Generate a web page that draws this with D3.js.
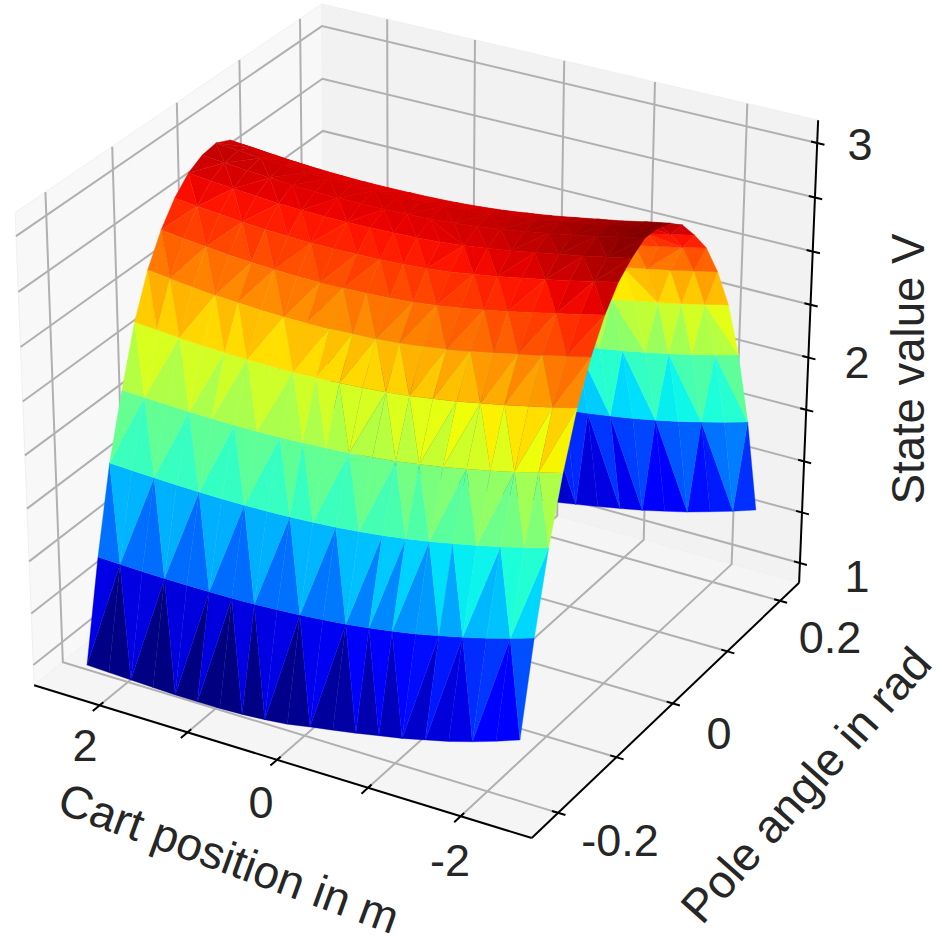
<!DOCTYPE html>
<html><head><meta charset="utf-8">
<script src="https://cdn.jsdelivr.net/npm/d3@7/dist/d3.min.js"></script>
<style>html,body{margin:0;padding:0;background:#fff}svg{display:block}</style></head>
<body><svg id="c" width="945" height="945"></svg>
<script>
// ---- data ----
const xValues = [2.4,2.147,1.895,1.642,1.389,1.137,0.884,0.632,0.379,0.126,-0.126,-0.379,-0.632,-0.884,-1.137,-1.389,-1.642,-1.895,-2.147,-2.4];
const yValues = [-0.2094,-0.1874,-0.1653,-0.1433,-0.1212,-0.0992,-0.0771,-0.0551,-0.0331,-0.011,0.011,0.0331,0.0551,0.0771,0.0992,0.1212,0.1433,0.1653,0.1874,0.2094];
const stateValue = [
[.957,.953,.949,.945,.942,.941,.942,.946,.954,.965,.985,1.003,1.022,1.043,1.064,1.090,1.116,1.148,1.184,1.224],
[1.426,1.423,1.419,1.417,1.416,1.416,1.417,1.420,1.425,1.432,1.441,1.452,1.466,1.483,1.502,1.525,1.550,1.578,1.609,1.643],
[1.822,1.817,1.812,1.808,1.805,1.803,1.803,1.805,1.809,1.815,1.822,1.832,1.845,1.860,1.878,1.899,1.921,1.946,1.973,2.002],
[2.115,2.110,2.105,2.101,2.098,2.096,2.096,2.098,2.102,2.108,2.114,2.124,2.136,2.151,2.169,2.189,2.211,2.235,2.262,2.290],
[2.383,2.375,2.366,2.359,2.354,2.350,2.349,2.349,2.352,2.357,2.363,2.371,2.383,2.399,2.416,2.437,2.458,2.481,2.505,2.531],
[2.576,2.564,2.553,2.542,2.535,2.529,2.525,2.525,2.527,2.531,2.536,2.545,2.558,2.574,2.593,2.614,2.637,2.660,2.684,2.709],
[2.714,2.702,2.691,2.680,2.673,2.667,2.663,2.663,2.665,2.669,2.674,2.683,2.696,2.712,2.731,2.752,2.775,2.798,2.822,2.847],
[2.815,2.804,2.794,2.784,2.777,2.772,2.769,2.769,2.771,2.775,2.780,2.788,2.800,2.816,2.834,2.854,2.875,2.897,2.921,2.945],
[2.884,2.874,2.865,2.857,2.850,2.846,2.843,2.843,2.845,2.849,2.853,2.861,2.872,2.886,2.902,2.921,2.940,2.960,2.982,3.004],
[2.922,2.912,2.903,2.895,2.888,2.884,2.881,2.881,2.883,2.887,2.892,2.900,2.911,2.925,2.942,2.961,2.980,3.001,3.024,3.046],
[2.933,2.924,2.915,2.908,2.902,2.898,2.896,2.895,2.897,2.901,2.905,2.912,2.922,2.935,2.950,2.967,2.985,3.004,3.024,3.044],
[2.902,2.893,2.884,2.876,2.870,2.866,2.864,2.864,2.866,2.869,2.874,2.882,2.892,2.906,2.921,2.939,2.958,2.977,2.999,3.020],
[2.835,2.825,2.816,2.807,2.801,2.796,2.793,2.793,2.796,2.800,2.805,2.813,2.825,2.839,2.857,2.877,2.897,2.918,2.942,2.965],
[2.744,2.734,2.725,2.716,2.710,2.705,2.702,2.702,2.705,2.709,2.714,2.722,2.734,2.748,2.766,2.786,2.806,2.827,2.851,2.874],
[2.639,2.629,2.620,2.611,2.605,2.600,2.597,2.597,2.600,2.604,2.609,2.617,2.629,2.643,2.661,2.681,2.701,2.722,2.746,2.769],
[2.478,2.470,2.462,2.455,2.450,2.447,2.445,2.446,2.448,2.452,2.458,2.466,2.477,2.491,2.507,2.526,2.546,2.567,2.590,2.613],
[2.263,2.257,2.250,2.245,2.241,2.239,2.238,2.239,2.242,2.247,2.253,2.261,2.273,2.287,2.303,2.322,2.342,2.364,2.388,2.413],
[1.956,1.951,1.946,1.942,1.939,1.937,1.937,1.939,1.943,1.949,1.955,1.965,1.977,1.992,2.010,2.030,2.052,2.076,2.103,2.131],
[1.563,1.560,1.558,1.556,1.555,1.555,1.556,1.559,1.564,1.570,1.578,1.588,1.601,1.617,1.634,1.655,1.678,1.704,1.732,1.763],
[1.024,1.020,1.016,1.012,1.009,1.008,1.009,1.013,1.021,1.032,1.052,1.070,1.089,1.110,1.131,1.157,1.183,1.215,1.248,1.284]
];
// triangle walk between neighbouring rows: b = step along row i, t = step along row i+1
const stripMoves = [
"tbbttbbttbtbbtbttbbttbbtbtbttbtbbttbbt",
"bttbbttbbttbbttbbttbbttbtbtbbtbttbbttb",
"tbbttbbttbbttbbtbttbbttbbtbttbbttbbtbt",
"bttbbttbtbbttbbtbtbttbbtbttbtbbtbttbtb",
"btbttbbtbttbbttbtbtbbtbttbtbbttbtbbttb",
"bttbbttbtbbttbtbbtbttbtbbttbbtbttbbttb",
"tbbttbbtbttbbttbtbbtbtbttbbtbttbbttbbt",
"bttbbttbbtbttbbtbtbtbttbbtbttbbttbbttb",
"tbbttbbtbttbbttbbtbtbbttbtbttbbttbbttb",
"bttbbttbtbbttbbtbttbbttbbttbtbbttbbttb",
"tbbttbtbbttbbttbbttbbtbtbttbbttbbttbbt",
"bttbbttbbttbtbbttbbttbbtbttbbttbtbbttb",
"tbbttbbttbbttbtbttbbttbbttbbtbtbbttbbt",
"bttbbttbbttbbtbttbbttbbttbtbbttbbttbbt",
"tbbttbbttbbttbbttbbtbtbbttbbttbtbbttbb",
"bttbbttbbttbbttbbttbbttbbttbbttbbtbtbt",
"tbbttbbttbbttbbttbbttbbttbbttbbtbtbttb",
"tbbttbbttbbttbbttbbttbbttbbttbbttbbttb",
"tbbttbbttbbttbbttbbttbbttbtbbttbbttbbt"
];
const xTicks = [2,1,0,-1,-2];
const xTickLabels = {"2":"2","0":"0","-2":"-2"};
const yTicks = [-0.2,-0.1,0,0.1,0.2];
const zTicks = [1,1.25,1.5,1.75,2,2.25,2.5,2.75,3];
const titles = {x:"Cart position in m", y:"Pole angle in rad", z:"State value V"};

// ---- scales: data to unit box ----
const sx = d3.scaleLinear().domain([2.756,-2.756]).range([0,1]);
const sy = d3.scaleLinear().domain([-0.2443,0.2367]).range([0,1]);
const sz = d3.scaleLinear().domain([0.9016,3.1038]).range([0,1]);

// ---- camera fitted to the box corners on the page ----
const boxAnchors = [
 [0,0,0, 34,685],[1,0,0, 532,838],[1,1,0, 799,583],
 [0,0,1, 15,213],[0,1,1, 322,4],[1,1,1, 818,120]];
function solve(A,b){const n=b.length;const M=A.map((r,i)=>[...r,b[i]]);
 for(let i=0;i<n;i++){let p=i;for(let k=i+1;k<n;k++)if(Math.abs(M[k][i])>Math.abs(M[p][i]))p=k;[M[i],M[p]]=[M[p],M[i]];
  for(let k=i+1;k<n;k++){const f=M[k][i]/M[i][i];for(let c=i;c<=n;c++)M[k][c]-=f*M[i][c];}}
 const x=Array(n).fill(0);for(let i=n-1;i>=0;i--){let s=M[i][n];for(let c=i+1;c<n;c++)s-=M[i][c]*x[c];x[i]=s/M[i][i];}return x;}
const rows=[],rhs=[];
boxAnchors.forEach(([u,v,w,px,py])=>{
 rows.push([u,v,w,1,0,0,0,0,-px*u,-px*v,-px*w]);rhs.push(px);
 rows.push([0,0,0,0,u,v,w,1,-py*u,-py*v,-py*w]);rhs.push(py);});
const AtA=Array.from({length:11},(_,i)=>Array.from({length:11},(_,j)=>d3.sum(rows,r=>r[i]*r[j])));
const Atb=Array.from({length:11},(_,i)=>d3.sum(rows,(r,k)=>r[i]*rhs[k]));
const P=solve(AtA,Atb);
function cam(u,v,w){const d=P[8]*u+P[9]*v+P[10]*w+1;return [(P[0]*u+P[1]*v+P[2]*w+P[3])/d,(P[4]*u+P[5]*v+P[6]*w+P[7])/d,d];}
const line=d3.line();
const seg=(a,b)=>line([cam(...a).slice(0,2),cam(...b).slice(0,2)]);
const poly=pts=>line(pts.map(p=>cam(...p).slice(0,2)))+"Z";

const svg=d3.select("#c");
// panes
[{c:"#f8f8f8",p:[[0,0,0],[0,1,0],[0,1,1],[0,0,1]]},
 {c:"#f2f2f2",p:[[0,1,0],[1,1,0],[1,1,1],[0,1,1]]},
 {c:"#f5f5f5",p:[[0,0,0],[1,0,0],[1,1,0],[0,1,0]]}].forEach(d=>
  svg.append("path").attr("d",poly(d.p)).attr("fill",d.c).attr("stroke","#f0f0f0").attr("stroke-width",1));
// grid
const grid=svg.append("g").attr("stroke","#b0b0b0").attr("stroke-width",2).attr("fill","none");
xTicks.forEach(t=>{const u=sx(t);
 grid.append("path").attr("d",line([[u,0,0],[u,1,0],[u,1,1]].map(p=>cam(...p).slice(0,2))));});
yTicks.forEach(t=>{const v=sy(t);
 grid.append("path").attr("d",line([[1,v,0],[0,v,0],[0,v,1]].map(p=>cam(...p).slice(0,2))));});
zTicks.forEach(t=>{const w=sz(t);
 grid.append("path").attr("d",line([[0,0,w],[0,1,w],[1,1,w]].map(p=>cam(...p).slice(0,2))));});
// axis lines
const ax=svg.append("g").attr("stroke","#000").attr("fill","none").attr("stroke-width",2);
ax.append("path").attr("d",seg([0,0,0],[1,0,0]));
ax.append("path").attr("d",seg([1,0,0],[1,1,0]));
ax.append("path").attr("d",seg([1,1,0],[1,1,1]));
xTicks.forEach(t=>ax.append("path").attr("d",seg([sx(t),-0.022,0],[sx(t),0.012,0])));
yTicks.forEach(t=>ax.append("path").attr("d",seg([1.014,sy(t),0],[0.988,sy(t),0])));
zTicks.forEach(t=>ax.append("path").attr("d",seg([1.014,1,sz(t)],[0.988,1,sz(t)])));

// ---- surface ----
const chan=(dom,rng)=>d3.scaleLinear().domain(dom).range(rng).clamp(true);
const jr=chan([0,.35,.66,.89,1],[0,0,1,1,.5]),jg=chan([0,.125,.375,.64,.91,1],[0,0,1,1,0,0]),jb=chan([0,.11,.34,.65,1],[.5,1,1,0,0]);
const jet=v=>`rgb(${Math.round(255*jr(v))},${Math.round(255*jg(v))},${Math.round(255*jb(v))})`;
const tris=[];
stripMoves.forEach((s,i)=>{let b=0,t=0;const n=xValues.length-1;
 const vert=(r,j)=>[xValues[j],yValues[r],stateValue[r][j]];
 const stepB=()=>{tris.push([vert(i,b),vert(i,b+1),vert(i+1,t)]);b++;};
 const stepT=()=>{tris.push([vert(i,b),vert(i+1,t),vert(i+1,t+1)]);t++;};
 for(const ch of s){if(ch==="b"&&b<n)stepB();else if(ch==="t"&&t<n)stepT();}
 while(b<n)stepB();while(t<n)stepT();});
const proj=v=>cam(sx(v[0]),sy(v[1]),sz(v[2]));
tris.forEach(T=>{T.mean=d3.mean(T,v=>v[2]);T.pts=T.map(proj);T.depth=d3.mean(T.pts,p=>p[2]);});
const cnorm=d3.scaleLinear().domain(d3.extent(tris,T=>T.mean)).range([0,1]);
tris.sort((a,b)=>b.depth-a.depth);
svg.append("g").selectAll("path").data(tris).join("path")
 .attr("d",T=>line(T.pts.map(p=>p.slice(0,2)))+"Z")
 .attr("fill",T=>jet(cnorm(T.mean))).attr("stroke",T=>jet(cnorm(T.mean))).attr("stroke-width",0.35);

// ---- text ----
const txt=svg.append("g").attr("font-family","'Liberation Sans',Arial,sans-serif").attr("fill","#262626").attr("font-size",45).attr("text-anchor","middle").attr("dominant-baseline","central");
[[2,85,745],[0,261,802],[-2,450,860]].forEach(([t,x,y])=>txt.append("text").attr("x",x).attr("y",y).text(xTickLabels[t]));
[["-0.2",620,840],["0",719,733],["0.2",830,637]].forEach(([t,x,y])=>txt.append("text").attr("x",x).attr("y",y).text(t));
[["1",857,576],["2",857,362],["3",860,144]].forEach(([t,x,y])=>txt.append("text").attr("x",x).attr("y",y).text(t));
txt.append("text").attr("transform","translate(229,858) rotate(20)").attr("font-size",46).text(titles.x);
txt.append("text").attr("transform","translate(806,785) rotate(-48.4)").attr("font-size",46.5).text(titles.y);
txt.append("text").attr("transform","translate(908,369) rotate(-90)").attr("font-size",45.5).text(titles.z);
</script></body></html>
